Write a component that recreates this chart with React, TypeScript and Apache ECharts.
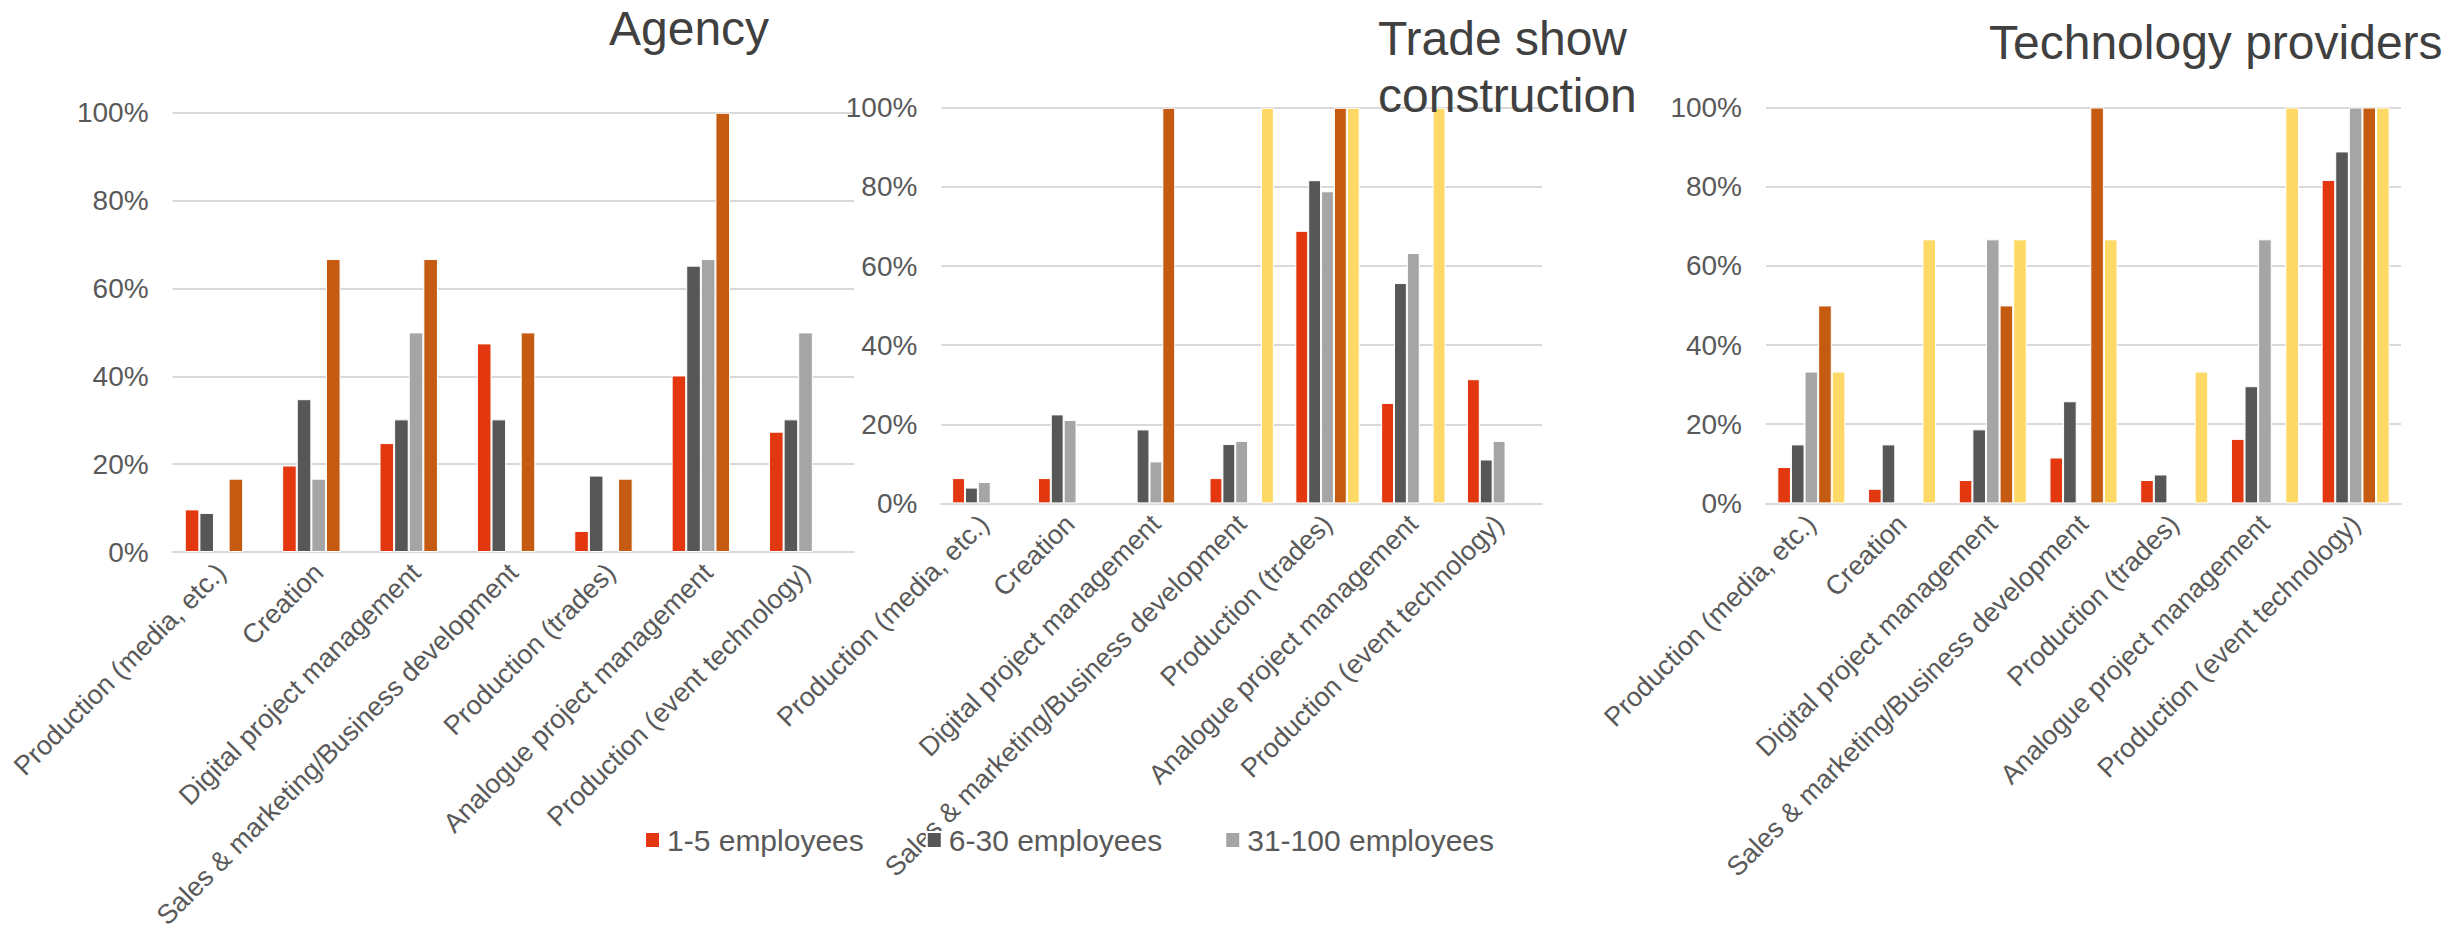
import React, { useEffect, useRef } from "react";
import * as echarts from "echarts";

const categories = [
  "Production (media, etc.)",
  "Creation",
  "Digital project management",
  "Sales & marketing/Business development",
  "Production (trades)",
  "Analogue project management",
  "Production (event technology)",
];

const seriesNames = [
  "1-5 employees",
  "6-30 employees",
  "31-100 employees",
  "101-500 employees",
  "More than 500 employees",
];
const legendNames = ["1-5 employees", "6-30 employees", "31-100 employees"];
const colors = ["#E3380F", "#575757", "#A5A5A5", "#C55A11", "#FFD966"];

const panelTitles = ["Agency", "Trade show\nconstruction", "Technology providers"];
const yTicks = [0, 20, 40, 60, 80, 100];

// Agency (percent)
const agency1 = [9.7, 19.7, 24.8, 47.5, 4.8, 40.2, 27.4];
const agency2 = [8.9, 34.8, 30.2, 30.2, 17.4, 65.2, 30.2];
const agency3 = [null, 16.7, 50, null, null, 66.7, 50];
const agency4 = [16.7, 66.7, 66.7, 50, 16.7, 100, null];
const agency5 = [null, null, null, null, null, null, null];

// Trade show construction (percent)
const trade1 = [6.4, 6.4, null, 6.4, 68.9, 25.4, 31.4];
const trade2 = [4.0, 22.5, 18.7, 15.0, 81.7, 55.7, 11.1];
const trade3 = [5.4, 21.1, 10.6, 15.8, 78.9, 63.3, 15.8];
const trade4 = [null, null, 100, null, 100, null, null];
const trade5 = [null, null, null, 100, 100, 100, null];

// Technology providers (percent)
const tech1 = [9.2, 3.7, 5.9, 11.6, 5.9, 16.3, 81.7];
const tech2 = [14.9, 14.9, 18.7, 25.8, 7.3, 29.6, 88.9];
const tech3 = [33.3, null, 66.7, null, null, 66.7, 100];
const tech4 = [50, null, 50, 100, null, null, 100];
const tech5 = [33.3, 66.7, 66.7, 66.7, 33.3, 100, 100];

const panels = [
  [agency1, agency2, agency3, agency4, agency5],
  [trade1, trade2, trade3, trade4, trade5],
  [tech1, tech2, tech3, tech4, tech5],
];

const FONT = "'Liberation Sans', Arial, Helvetica, sans-serif";

export default function App() {
  const ref = useRef<HTMLDivElement>(null);

  useEffect(() => {
    document.body.style.margin = "0";
    if (!ref.current) return;
    const chart = echarts.init(ref.current, undefined, { renderer: "svg" });

    const grids = [
      { left: 172.6, top: 112.8, width: 681.6, height: 441 },
      { left: 941.4, top: 107.8, width: 600.6, height: 395.6 },
      { left: 1766, top: 107.5, width: 635, height: 395.9 },
    ];

    const xAxes = grids.map((_, i) => ({
      type: "category",
      gridIndex: i,
      data: categories,
      axisLine: { show: true, lineStyle: { color: "#D9D9D9", width: 2 } },
      axisTick: { show: false },
      axisLabel: {
        interval: 0,
        rotate: 45,
        margin: 16,
        fontSize: 27,
        fontFamily: FONT,
        color: "#595959",
      },
    }));

    const yAxes = grids.map((_, i) => ({
      type: "value",
      gridIndex: i,
      min: yTicks[0],
      max: yTicks[yTicks.length - 1],
      interval: yTicks[1] - yTicks[0],
      axisLine: { show: false },
      axisTick: { show: false },
      splitLine: { lineStyle: { color: "#D9D9D9", width: 2 } },
      axisLabel: {
        margin: 24,
        fontSize: 28,
        fontFamily: FONT,
        color: "#595959",
        formatter: "{value}%",
      },
    }));

    const series: any[] = [];
    panels.forEach((panel, pi) => {
      panel.forEach((values, si) => {
        series.push({
          type: "bar",
          name: seriesNames[si],
          xAxisIndex: pi,
          yAxisIndex: pi,
          data: values,
          barGap: "0%",
          barCategoryGap: "25%",
          itemStyle: { color: colors[si], borderColor: "#ffffff", borderWidth: 1 },
        });
      });
    });

    const titlePos = [
      { x: 609, y: 28.5 },
      { x: 1378, y: 67 },
      { x: 1989, y: 42 },
    ];

    chart.setOption({
      animation: false,
      color: colors,
      grid: grids,
      xAxis: xAxes,
      yAxis: yAxes,
      legend: {
        data: legendNames,
        left: 639,
        top: 820,
        itemWidth: 15,
        itemHeight: 16,
        itemGap: 62,
        icon: "rect",
        textStyle: { fontSize: 30, fontFamily: FONT, color: "#595959", padding: [0, 0, 0, 2] },
      },
      graphic: panelTitles.map((t, i) => ({
        type: "text",
        x: titlePos[i].x,
        y: titlePos[i].y,
        z: 100,
        style: {
          text: t,
          fill: "#404040",
          fontSize: 48,
          fontFamily: FONT,
          lineHeight: 57,
          align: "left",
          textAlign: "left",
          verticalAlign: "middle",
          textVerticalAlign: "middle",
        },
      })),
      series,
    });

    return () => chart.dispose();
  }, []);

  return <div ref={ref} style={{ width: 2446, height: 932 }} />;
}
